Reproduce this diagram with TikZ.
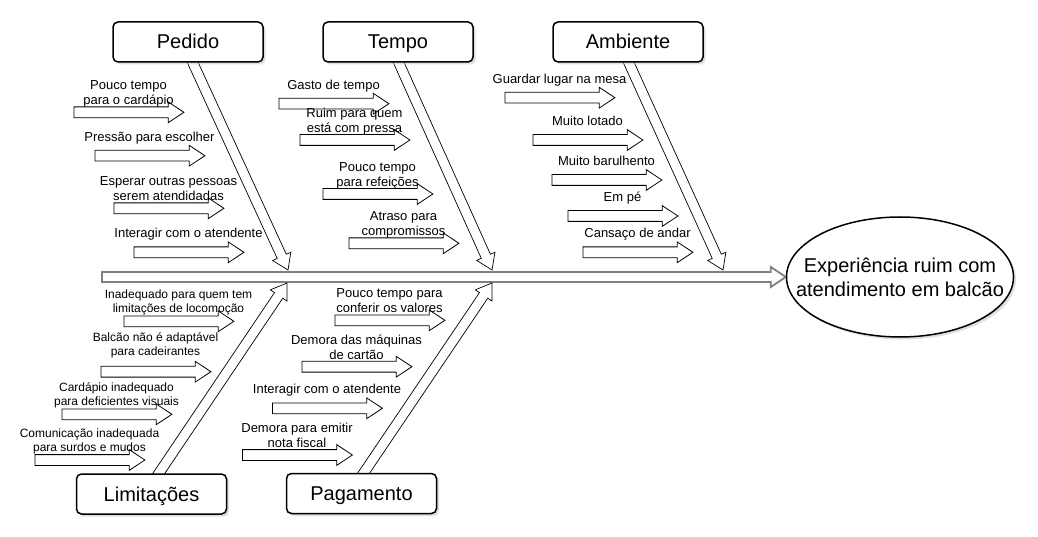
\documentclass[tikz,border=0pt]{standalone}
\usepackage{fontspec}
\setmainfont{Liberation Sans}
\usetikzlibrary{positioning,calc,shapes.geometric,shapes.arrows,shadows}
\definecolor{spinegray}{HTML}{808080}
\pgfdeclarelayer{bones}
\pgfsetlayers{bones,main}

% hollow arrow from #2 to #3
\newcommand{\fatarrow}[3][]{%
  \coordinate (fa-b) at ($(#3)!15pt!(#2)$);
  \draw[#1] ($(#2)!5pt!90:(#3)$) -- ($(fa-b)!5pt!-90:(#2)$)
    -- ($(fa-b)!10pt!-90:(#2)$) -- (#3) -- ($(fa-b)!10pt!90:(#2)$)
    -- ($(fa-b)!5pt!90:(#2)$) -- ($(#2)!5pt!-90:(#3)$) -- cycle;}

\begin{document}
\begin{tikzpicture}[x=1pt,y=-1pt,
  catbox/.style={draw, line width=1.5pt, rounded corners=5pt, fill=white,
    minimum width=150pt, minimum height=40pt, text height=17pt, text depth=3pt,
    font=\fontsize{20}{24}\selectfont,
    drop shadow={shadow xshift=2.5pt, shadow yshift=-2.5pt, fill=black!25}},
  effect/.style={ellipse, draw, line width=1.5pt, fill=white, align=center,
    minimum width=227pt, minimum height=120pt, inner xsep=-25pt, inner ysep=0pt,
    font=\fontsize{20}{24}\selectfont,
    drop shadow={shadow xshift=2.5pt, shadow yshift=-2.5pt, fill=black!25}},
  cause/.style={single arrow, draw, line width=0.8pt, anchor=tail, inner sep=0pt,
    text height=5pt, text depth=5pt, minimum height=110pt, minimum width=20pt,
    single arrow head extend=5pt, single arrow tip angle=67},
  causetxt/.style={align=center, inner sep=0pt, font=\fontsize{13}{15}\selectfont,
    execute at begin node=\strut, execute at end node=\strut},
  smalltxt/.style={causetxt, font=\fontsize{12}{14}\selectfont},
  bone/.style={draw=black, line width=0.7pt, fill=white},
  spine/.style={draw=spinegray, line width=1.8pt, fill=white}]
  \useasboundingbox (0,0) rectangle (1038,537);

  % categories and effect
  \node[catbox] (pedido) at (188,42) {Pedido};
  \node[catbox] (tempo) at (398,42) {Tempo};
  \node[catbox] (ambiente) at (628,42) {Ambiente};
  \node[catbox] (limites) at (151.5,494) {Limitações};
  \node[catbox] (pagto) at (361.5,493.5) {Pagamento};
  \node[effect] (fx) at (900,277) {Experiência ruim com\\atendimento em balcão};

  % spine and bones
  \coordinate (tail) at (102,277);
  \coordinate (ped-end) at (288,270);
  \coordinate (tmp-end) at (492,270);
  \coordinate (amb-end) at (723,270);
  \coordinate (lim-end) at (287,283);
  \coordinate (pag-end) at (492,283);
  \begin{pgfonlayer}{bones}
    \fatarrow[spine]{tail}{fx.west}
    \fatarrow[bone]{[xshift=3pt,yshift=4pt]pedido.south}{ped-end}
    \fatarrow[bone]{[xshift=-1pt,yshift=4pt]tempo.south}{tmp-end}
    \fatarrow[bone]{[xshift=-1pt,yshift=4pt]ambiente.south}{amb-end}
    \fatarrow[bone]{[xshift=4pt,yshift=-5pt]limites.north}{lim-end}
    \fatarrow[bone]{[xshift=-1pt,yshift=-5pt]pagto.north}{pag-end}
  \end{pgfonlayer}

  % Pedido
  \node[cause] (ped1) at (73.5,112.3) {};
  \node[causetxt] (ped1-t) at ([xshift=55pt,yshift=17.5pt]ped1.tail) {Pouco tempo\\para o cardápio};
  \node[cause] (ped2) at (94.5,155.7) {};
  \node[causetxt] (ped2-t) at ([xshift=55pt,yshift=17.5pt]ped2.tail) {Pressão para escolher};
  \node[cause] (ped3) at (113.5,208.3) {};
  \node[causetxt] (ped3-t) at ([xshift=55pt,yshift=17.5pt]ped3.tail) {Esperar outras pessoas\\serem atendidadas};
  \node[cause] (ped4) at (133.5,252.3) {};
  \node[causetxt] (ped4-t) at ([xshift=55pt,yshift=17.5pt]ped4.tail) {Interagir com o atendente};

  % Tempo
  \node[cause] (tmp1) at (278.5,103.7) {};
  \node[causetxt] (tmp1-t) at ([xshift=55pt,yshift=17.5pt]tmp1.tail) {Gasto de tempo};
  \node[cause] (tmp2) at (299.5,140) {};
  \node[causetxt] (tmp2-t) at ([xshift=55pt,yshift=17.5pt]tmp2.tail) {Ruim para quem\\está com pressa};
  \node[cause] (tmp3) at (322.5,194) {};
  \node[causetxt] (tmp3-t) at ([xshift=55pt,yshift=17.5pt]tmp3.tail) {Pouco tempo\\para refeições};
  \node[cause] (tmp4) at (348.5,243.3) {};
  \node[causetxt] (tmp4-t) at ([xshift=55pt,yshift=17.5pt]tmp4.tail) {Atraso para\\compromissos};

  % Ambiente
  \node[cause] (amb1) at (504.5,97.7) {};
  \node[causetxt] (amb1-t) at ([xshift=55pt,yshift=17.5pt]amb1.tail) {Guardar lugar na mesa};
  \node[cause] (amb2) at (532.5,140) {};
  \node[causetxt] (amb2-t) at ([xshift=55pt,yshift=17.5pt]amb2.tail) {Muito lotado};
  \node[cause] (amb3) at (551.5,180) {};
  \node[causetxt] (amb3-t) at ([xshift=55pt,yshift=17.5pt]amb3.tail) {Muito barulhento};
  \node[cause] (amb4) at (567.5,216) {};
  \node[causetxt] (amb4-t) at ([xshift=55pt,yshift=17.5pt]amb4.tail) {Em pé};
  \node[cause] (amb5) at (582.5,252.3) {};
  \node[causetxt] (amb5-t) at ([xshift=55pt,yshift=17.5pt]amb5.tail) {Cansaço de andar};

  % Limitações
  \node[cause] (lim1) at (123.5,321.3) {};
  \node[smalltxt] (lim1-t) at ([xshift=55pt,yshift=18pt]lim1.tail) {Inadequado para quem tem\\limitações de locomoção};
  \node[cause] (lim2) at (100.5,371.7) {};
  \node[smalltxt] (lim2-t) at ([xshift=55pt,yshift=26pt]lim2.tail) {Balcão não é adaptável\\para cadeirantes};
  \node[cause] (lim3) at (61.5,414.3) {};
  \node[smalltxt] (lim3-t) at ([xshift=55pt,yshift=18pt]lim3.tail) {Cardápio inadequado\\para deficientes visuais};
  \node[cause] (lim4) at (34.5,460) {};
  \node[smalltxt] (lim4-t) at ([xshift=55pt,yshift=18pt]lim4.tail) {Comunicação inadequada\\para surdos e mudos};

  % Pagamento
  \node[cause] (pag1) at (334.5,320.3) {};
  \node[causetxt] (pag1-t) at ([xshift=55pt,yshift=17.5pt]pag1.tail) {Pouco tempo para\\conferir os valores};
  \node[cause] (pag2) at (301.5,366.7) {};
  \node[causetxt] (pag2-t) at ([xshift=55pt,yshift=17.5pt]pag2.tail) {Demora das máquinas\\de cartão};
  \node[cause] (pag3) at (272,408.3) {};
  \node[causetxt] (pag3-t) at ([xshift=55pt,yshift=17.5pt]pag3.tail) {Interagir com o atendente};
  \node[cause] (pag4) at (242,455) {};
  \node[causetxt] (pag4-t) at ([xshift=55pt,yshift=17.5pt]pag4.tail) {Demora para emitir\\nota fiscal};
\end{tikzpicture}
\end{document}
